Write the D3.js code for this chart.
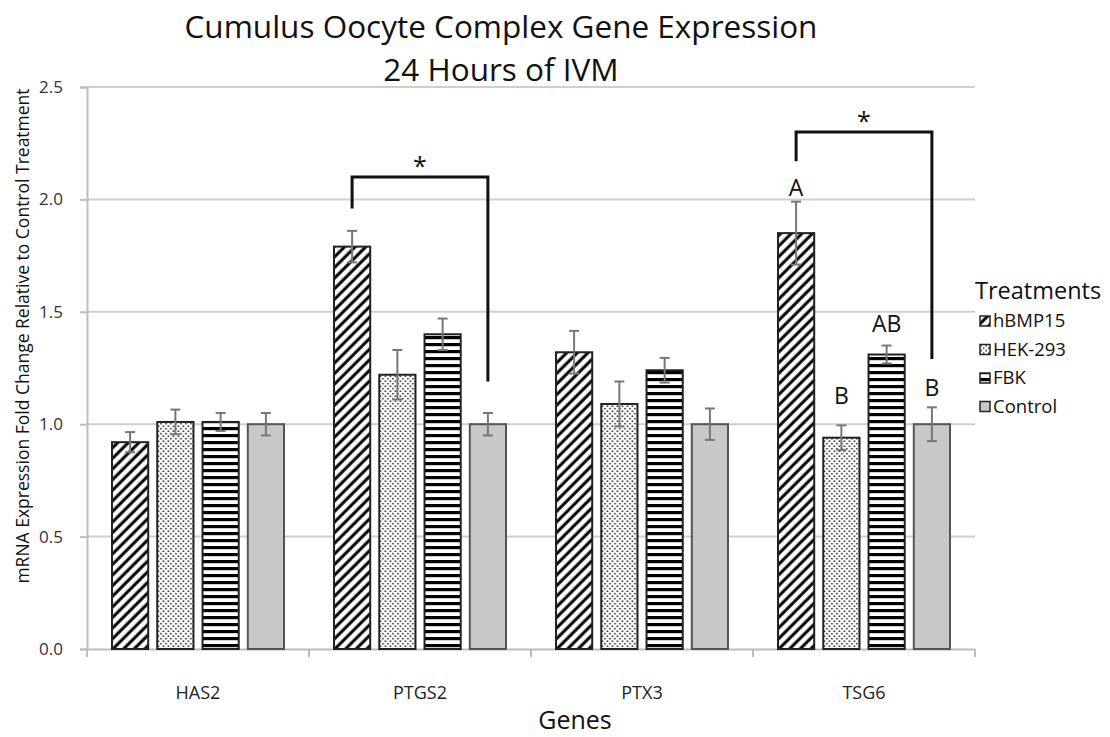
<!DOCTYPE html>
<html>
<head>
<meta charset="utf-8">
<script src="https://cdn.jsdelivr.net/npm/d3@7"></script>
<style>
  body { margin: 0; background: #fff; }
  text { font-family: "Open Sans", Lato, sans-serif; fill: #111; }
</style>
</head>
<body>
<div id="chart"></div>
<script>
// chart values
var genes = ["HAS2", "PTGS2", "PTX3", "TSG6"];
var treatments = ["hBMP15", "HEK-293", "FBK", "Control"];

var hbmp15 = [0.92, 1.79, 1.32, 1.85];
var hbmp15Err = [0.045, 0.07, 0.095, 0.14];
var hek293 = [1.01, 1.22, 1.09, 0.94];
var hek293Err = [0.055, 0.11, 0.10, 0.055];
var fbk = [1.01, 1.40, 1.24, 1.31];
var fbkErr = [0.04, 0.07, 0.055, 0.04];
var control = [1.0, 1.0, 1.0, 1.0];
var controlErr = [0.05, 0.05, 0.07, 0.075];

var yTicks = [0, 0.5, 1.0, 1.5, 2.0, 2.5];

// significance brackets: gene, from / to treatment, top value, leg ends
var brackets = [
  { gene: "PTGS2", from: "hBMP15", to: "Control", top: 2.10, left: 1.96, right: 1.19 },
  { gene: "TSG6", from: "hBMP15", to: "Control", top: 2.30, left: 2.17, right: 1.29 }
];
// letter labels
var letters = [
  { gene: "TSG6", treatment: "hBMP15", label: "A", at: 2.015 },
  { gene: "TSG6", treatment: "HEK-293", label: "B", at: 1.09 },
  { gene: "TSG6", treatment: "FBK", label: "AB", at: 1.41 },
  { gene: "TSG6", treatment: "Control", label: "B", at: 1.125 }
];

var values = [hbmp15, hek293, fbk, control];
var errs = [hbmp15Err, hek293Err, fbkErr, controlErr];
var fills = ["url(#hatch)", "url(#dots)", "url(#stripes)", "#c8c8c8"];

var rows = [];
genes.forEach(function (g, gi) {
  treatments.forEach(function (t, ti) {
    rows.push({ gene: g, treatment: t, value: values[ti][gi], err: errs[ti][gi], fill: fills[ti] });
  });
});

var width = 1110, height = 737;
var margin = { top: 87, left: 87, right: 135, bottom: 88 };

var svg = d3.select("#chart").append("svg")
  .attr("width", width)
  .attr("height", height);

// patterns
var defs = svg.append("defs");
var hatch = defs.append("pattern")
  .attr("id", "hatch")
  .attr("patternUnits", "userSpaceOnUse")
  .attr("width", 7.5).attr("height", 7.5)
  .attr("patternTransform", "rotate(45)");
hatch.append("rect").attr("width", 7.5).attr("height", 7.5).attr("fill", "#fff");
hatch.append("line").attr("x1", 2).attr("y1", 0).attr("x2", 2).attr("y2", 7.5)
  .attr("stroke", "#000").attr("stroke-width", 3);

var dots = defs.append("pattern")
  .attr("id", "dots")
  .attr("patternUnits", "userSpaceOnUse")
  .attr("width", 5).attr("height", 5);
dots.append("rect").attr("width", 5).attr("height", 5).attr("fill", "#fff");
dots.append("circle").attr("cx", 1.2).attr("cy", 1.2).attr("r", 0.85).attr("fill", "#222");
dots.append("circle").attr("cx", 3.7).attr("cy", 3.7).attr("r", 0.85).attr("fill", "#222");

var stripes = defs.append("pattern")
  .attr("id", "stripes")
  .attr("patternUnits", "userSpaceOnUse")
  .attr("width", 7).attr("height", 7);
stripes.append("rect").attr("width", 7).attr("height", 7).attr("fill", "#fff");
stripes.append("rect").attr("y", 0).attr("width", 7).attr("height", 3.2).attr("fill", "#000");

var x0 = d3.scaleBand()
  .domain(genes)
  .range([margin.left, width - margin.right]);

var x1 = d3.scaleBand()
  .domain(treatments)
  .range([25, x0.bandwidth() - 25])
  .paddingInner(0.2);

var y = d3.scaleLinear()
  .domain([0, 2.5])
  .range([height - margin.bottom, margin.top]);

// gridlines
svg.append("g")
  .selectAll("line")
  .data(yTicks.slice(1))
  .enter().append("line")
    .attr("x1", margin.left)
    .attr("x2", width - margin.right)
    .attr("y1", function (d) { return y(d); })
    .attr("y2", function (d) { return y(d); })
    .attr("stroke", "#cfcfcf")
    .attr("stroke-width", 2);

// y axis
var yAxis = svg.append("g")
  .attr("transform", "translate(" + margin.left + ",0)")
  .call(d3.axisLeft(y).tickValues(yTicks).tickFormat(d3.format(".1f")).tickSize(7).tickPadding(17));
yAxis.select(".domain").attr("stroke", "#bdbdbd").attr("stroke-width", 2);
yAxis.selectAll(".tick line").attr("stroke", "#bdbdbd").attr("stroke-width", 2);
yAxis.selectAll("text").style("font-size", "17px").style("fill", "#333")
  .style("font-family", "'Open Sans', sans-serif");

// x axis
var xAxis = svg.append("g")
  .attr("transform", "translate(0," + y(0) + ")")
  .call(d3.axisBottom(x0).tickSize(0).tickPadding(37));
xAxis.select(".domain").attr("stroke", "#bdbdbd").attr("stroke-width", 2);
xAxis.selectAll("text").style("font-size", "18px").style("fill", "#222")
  .style("font-family", "'Open Sans', sans-serif");
// boundary ticks between genes
var bounds = genes.map(function (g) { return x0(g); }).concat([x0.range()[1]]);
xAxis.selectAll(".bound")
  .data(bounds)
  .enter().append("line")
    .attr("class", "bound")
    .attr("x1", function (d) { return d; })
    .attr("x2", function (d) { return d; })
    .attr("y1", 0).attr("y2", 8)
    .attr("stroke", "#bdbdbd").attr("stroke-width", 2);

// bars
var bars = svg.append("g")
  .selectAll("g")
  .data(rows)
  .enter().append("g")
    .attr("transform", function (d) { return "translate(" + (x0(d.gene) + x1(d.treatment)) + ",0)"; });

bars.append("rect")
  .attr("x", 0)
  .attr("y", function (d) { return y(d.value); })
  .attr("width", x1.bandwidth())
  .attr("height", function (d) { return y(0) - y(d.value); })
  .attr("fill", function (d) { return d.fill; })
  .attr("stroke", function (d) { return d.treatment === "Control" ? "#555" : "#222"; })
  .attr("stroke-width", 2);

// error bars
var cx = x1.bandwidth() / 2;
bars.append("line")
  .attr("x1", cx).attr("x2", cx)
  .attr("y1", function (d) { return y(d.value - d.err); })
  .attr("y2", function (d) { return y(d.value + d.err); })
  .attr("stroke", "#777").attr("stroke-width", 2);
bars.append("line")
  .attr("x1", cx - 5).attr("x2", cx + 5)
  .attr("y1", function (d) { return y(d.value + d.err); })
  .attr("y2", function (d) { return y(d.value + d.err); })
  .attr("stroke", "#777").attr("stroke-width", 2);
bars.append("line")
  .attr("x1", cx - 5).attr("x2", cx + 5)
  .attr("y1", function (d) { return y(d.value - d.err); })
  .attr("y2", function (d) { return y(d.value - d.err); })
  .attr("stroke", "#777").attr("stroke-width", 2);

// brackets
function barCenter(g, t) { return x0(g) + x1(t) + x1.bandwidth() / 2; }
var br = svg.append("g").selectAll("g").data(brackets).enter().append("g");
br.append("path")
  .attr("d", function (d) {
    var xa = barCenter(d.gene, d.from), xb = barCenter(d.gene, d.to);
    return "M" + xa + "," + y(d.left) + "V" + y(d.top) + "H" + xb + "V" + y(d.right);
  })
  .attr("fill", "none")
  .attr("stroke", "#111")
  .attr("stroke-width", 3);
br.append("text")
  .attr("x", function (d) { return (barCenter(d.gene, d.from) + barCenter(d.gene, d.to)) / 2; })
  .attr("y", function (d) { return y(d.top) - 2; })
  .attr("text-anchor", "middle")
  .style("font-size", "25px")
  .text("*");

// letters
svg.append("g").selectAll("text")
  .data(letters)
  .enter().append("text")
    .attr("x", function (d) { return barCenter(d.gene, d.treatment); })
    .attr("y", function (d) { return y(d.at); })
    .attr("text-anchor", "middle")
    .style("font-size", "23px")
    .text(function (d) { return d.label; });

// titles
svg.append("text")
  .attr("x", 501).attr("y", 38)
  .attr("text-anchor", "middle")
  .style("font-size", "31.5px")
  .text("Cumulus Oocyte Complex Gene Expression");
svg.append("text")
  .attr("x", 501).attr("y", 81)
  .attr("text-anchor", "middle")
  .style("font-size", "31.5px")
  .text("24 Hours of IVM");

svg.append("text")
  .attr("x", 575).attr("y", 729)
  .attr("text-anchor", "middle")
  .style("font-size", "25px")
  .text("Genes");

svg.append("text")
  .attr("transform", "translate(29," + 336 + ") rotate(-90)")
  .attr("text-anchor", "middle")
  .style("font-size", "17.5px")
  .text("mRNA Expression Fold Change Relative to Control Treatment");

// legend
var legend = svg.append("g").attr("transform", "translate(975,0)");
legend.append("text")
  .attr("x", 0).attr("y", 299)
  .style("font-size", "23.5px")
  .text("Treatments");
var items = legend.selectAll(".item")
  .data(treatments)
  .enter().append("g")
    .attr("class", "item")
    .attr("transform", function (d, i) { return "translate(5," + (321 + i * 28.5) + ")"; });
items.append("rect")
  .attr("x", 0).attr("y", -5)
  .attr("width", 10).attr("height", 10)
  .attr("fill", function (d, i) { return fills[i]; })
  .attr("stroke", "#222").attr("stroke-width", 1.5);
items.append("text")
  .attr("x", 13).attr("y", 6)
  .style("font-size", "18.5px")
  .text(function (d) { return d; });
</script>
</body>
</html>
